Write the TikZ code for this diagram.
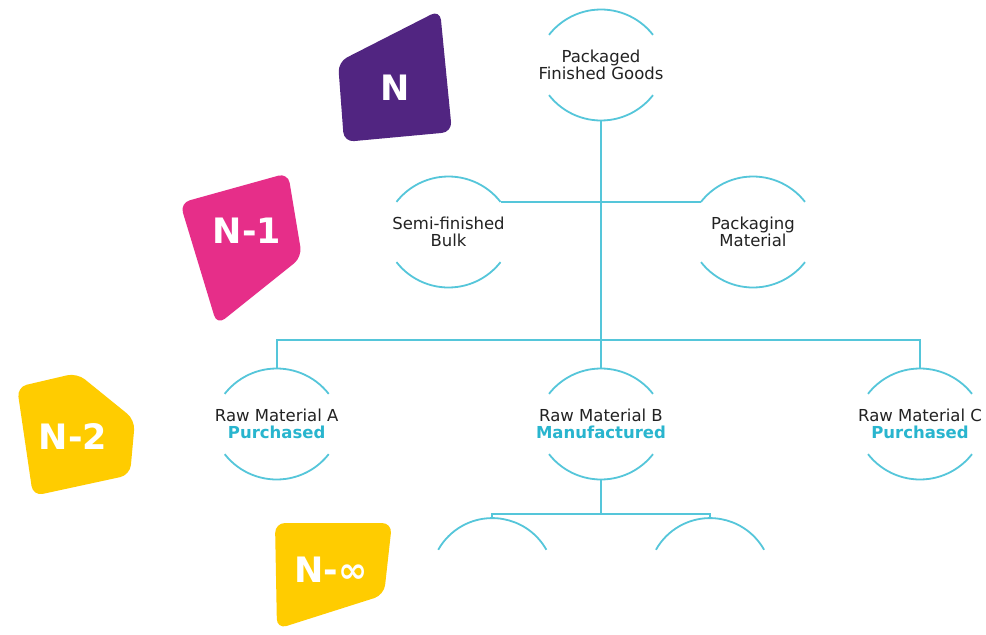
\documentclass[tikz,border=0pt]{standalone}
\usepackage{fontspec}
\setmainfont{DejaVu Sans}
\definecolor{lineC}{HTML}{55C6DA}
\definecolor{accent}{HTML}{29B5CE}
\definecolor{purpleN}{HTML}{512581}
\definecolor{pinkN}{HTML}{E62E89}
\definecolor{yellowN}{HTML}{FFCC00}
\definecolor{txt}{HTML}{222222}
\tikzset{
  bubble/.style={rectangle, minimum width=111pt, minimum height=111pt, inner sep=0pt, align=center, text=txt,
    font=\fontsize{16.5}{17.5}\selectfont},
  link/.style={draw=lineC, line width=1.8pt},
  badge/.style={rounded corners=10pt, draw=none},
  badgetext/.style={text=white, inner sep=0pt, font=\fontsize{35}{40}\selectfont\bfseries},
}
\begin{document}
\begin{tikzpicture}[x=1pt,y=1pt]
\useasboundingbox (0,0) rectangle (986,-635);
\fill[white] (0,0) rectangle (986,-635);

% badges
\fill[purpleN, badge] (440,-10) -- (338,-62) -- (344,-142) -- (452,-132) -- cycle;
\node[badgetext] (bN) at (395,-88) {N};
\fill[pinkN, badge] (288,-173) -- (180,-203) -- (217,-325) -- (302,-257) -- cycle;
\node[badgetext] (bN1) at (247,-231) {N-1};
\fill[yellowN, badge] (17,-387) -- (77,-373) -- (135,-420) -- (130,-475) -- (33,-496) -- cycle;
\node[badgetext] (bN2) at (73,-437) {N-2};
\fill[yellowN, badge] (275,-523) -- (392,-523) -- (384,-595) -- (277,-629) -- cycle;
\node[badgetext] (bNi) at (331,-570) {N-∞};

% bubbles
\node[bubble] (pfg) at (601,-65) {Packaged\\Finished Goods};
\node[bubble] (sfb) at (448.5,-232) {Semi-finished\\Bulk};
\node[bubble] (pm)  at (753,-232) {Packaging\\Material};
\node[bubble] (rma) at (276.7,-424) {Raw Material A\\{\bfseries\color{accent}Purchased}};
\node[bubble] (rmb) at (601,-424) {Raw Material B\\{\bfseries\color{accent}Manufactured}};
\node[bubble] (rmc) at (920,-424) {Raw Material C\\{\bfseries\color{accent}Purchased}};
\node[bubble] (sub1) at (492.3,-573.8) {};
\node[bubble] (sub2) at (710,-573.8) {};

\foreach \n in {pfg,sfb,pm,rma,rmb,rmc}{
  \draw[link] ([yshift=-10.5pt]\n.center) ++(38:66pt) arc[start angle=38, end angle=142, radius=66pt];
  \draw[link] ([yshift=10.5pt]\n.center) ++(218:66pt) arc[start angle=218, end angle=322, radius=66pt];
}
\foreach \n in {sub1,sub2}{
  \draw[link] ([yshift=-62pt]\n.north) ++(29.3:62pt) arc[start angle=29.3, end angle=150.7, radius=62pt];
}

% connectors
\coordinate (sfbne) at ([shift={(52pt,30.1pt)}]sfb.center);
\coordinate (pmnw) at ([shift={(-52pt,30.1pt)}]pm.center);
\coordinate (bar) at (601,-340);
\coordinate (subbar) at (601,-514);
\draw[link] (pfg.south) -- (rmb.north);
\draw[link] (sfbne) -- (pmnw);
\draw[link] (rma.north) |- (bar) -| (rmc.north);
\draw[link] (rmb.south) -- (subbar);
\draw[link] (sub1.north) |- (subbar) -| (sub2.north);
\end{tikzpicture}
\end{document}
